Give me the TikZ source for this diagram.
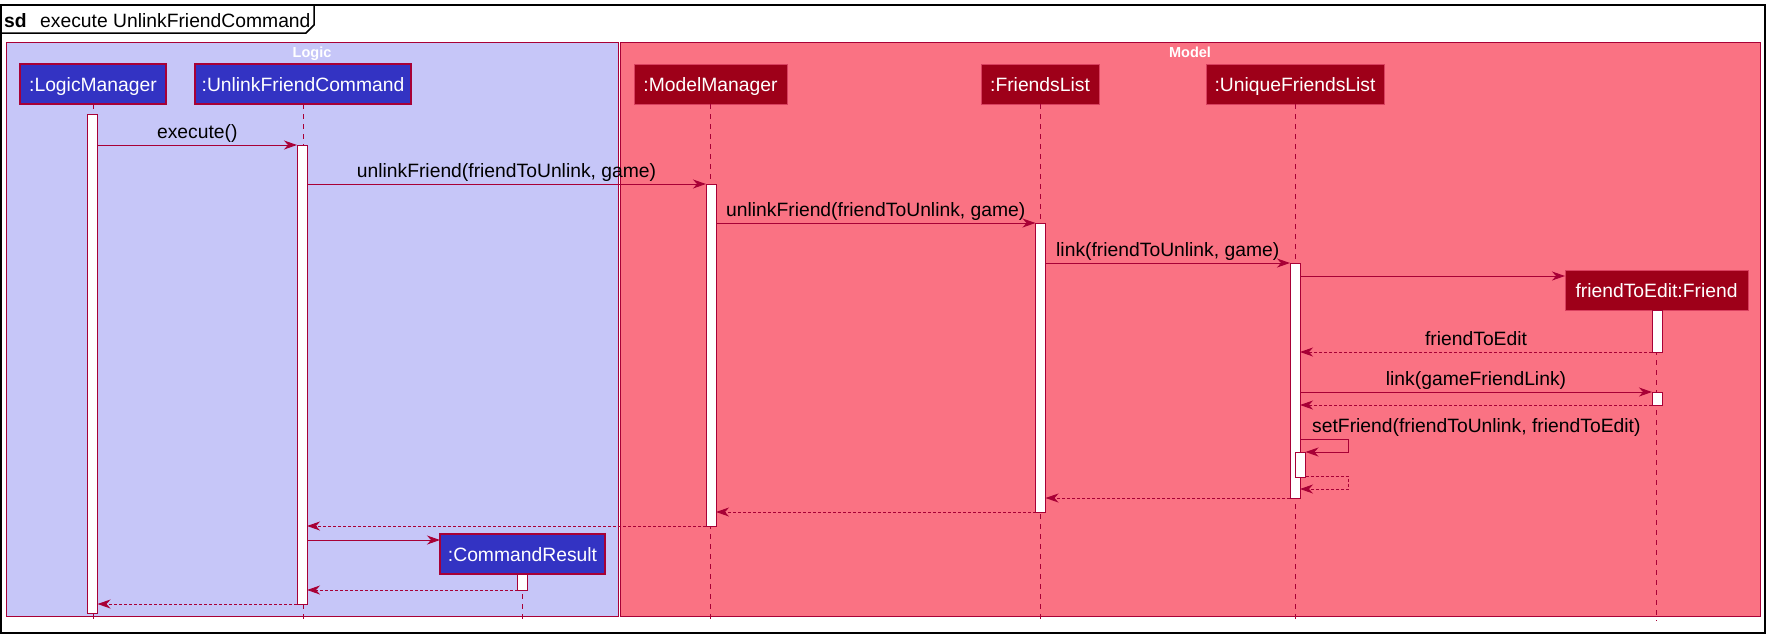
\documentclass[tikz,border=0pt]{standalone}
\usepackage{fontspec}
\setmainfont{Liberation Sans}
\usetikzlibrary{arrows.meta,calc}
\definecolor{crim}{HTML}{A80036}
\definecolor{logicbg}{HTML}{C6C6F8}
\definecolor{modelbg}{HTML}{FA7283}
\definecolor{pblue}{HTML}{3333C3}
\definecolor{pred}{HTML}{9E0019}
\definecolor{predborder}{HTML}{D9405F}
\tikzset{
  txt/.style={font=\fontsize{19.3}{23}\selectfont},
  grp/.style={draw=crim, line width=1pt},
  grplbl/.style={font=\fontsize{14.5}{17}\selectfont\bfseries, text=white, inner sep=0pt, anchor=base},
  partb/.style={txt, draw=crim, line width=1.2pt, fill=pblue, text=white, inner sep=0pt, outer sep=0pt,
    minimum height=40pt, text height=15pt, text depth=0pt},
  partr/.style={txt, draw=predborder, line width=1pt, fill=pred, text=white, inner sep=0pt, outer sep=0pt,
    minimum height=40pt, text height=15pt, text depth=0pt},
  life/.style={draw=crim, line width=1pt, dash pattern=on 5pt off 5pt},
  actbar/.style={draw=crim, fill=white, line width=1pt, inner sep=0pt, outer sep=0pt, minimum width=10pt},
  msg/.style={draw=crim, line width=1pt, -{Stealth[length=13pt,width=9pt,inset=4pt]}},
  ret/.style={msg, dash pattern=on 3pt off 2pt},
  lbl/.style={txt, inner sep=0pt, anchor=base, yshift=7pt},
}
\begin{document}
\begin{tikzpicture}[x=1pt,y=-1pt]
\useasboundingbox (0,0) rectangle (1771,638);
\fill[white] (0,0) rectangle (1771,638);
% outer frame
\draw[line width=1.5pt] (1,5) rectangle (1765,633);
\draw[line width=1.5pt] (1,33) -- (306,33) -- (314,25) -- (314,5);
\node[txt, font=\fontsize{19.3}{23}\selectfont\bfseries, anchor=base west, inner sep=0pt] (sd) at (4,27) {sd};
\node[txt, anchor=base west, inner sep=0pt] (title) at (40,27) {execute UnlinkFriendCommand};
% groups
\filldraw[grp, fill=logicbg] (6,42) rectangle (618,616);
\filldraw[grp, fill=modelbg] (620,42) rectangle (1760,616);
\node[grplbl] (logiclbl) at (312,57) {Logic};
\node[grplbl] (modellbl) at (1190,57) {Model};
% participants
\node[partb, minimum width=146pt] (LM) at (93,84) {:LogicManager};
\node[partb, minimum width=216pt] (UFC) at (303,84) {:UnlinkFriendCommand};
\node[partr, minimum width=153pt] (MM) at (710.5,84) {:ModelManager};
\node[partr, minimum width=118pt] (FL) at (1040,84) {:FriendsList};
\node[partr, minimum width=178pt] (UFL) at (1295,84) {:UniqueFriendsList};
\node[partr, minimum width=183pt] (FR) at (1656.5,290) {friendToEdit:Friend};
\node[partb, minimum width=165pt] (CR) at (522.5,554) {:CommandResult};
% lifelines
\draw[life] (LM.south) -- (LM.south |- 0,619);
\draw[life] (UFC.south) -- (UFC.south |- 0,619);
\draw[life] (MM.south) -- (MM.south |- 0,619);
\draw[life] (FL.south) -- (FL.south |- 0,619);
\draw[life] (UFL.south) -- (UFL.south |- 0,619);
\draw[life] (FR.south) -- (FR.south |- 0,621);
\draw[life] (CR.south) -- (CR.south |- 0,623);
% activations
\node[actbar, minimum height=499pt] (aLM) at (92.5,363.5) {};
\node[actbar, minimum height=459pt] (aUFC) at (302,374.5) {};
\node[actbar, minimum height=342pt] (aMM) at (711,355) {};
\node[actbar, minimum height=289pt] (aFL) at (1040.5,367.5) {};
\node[actbar, minimum height=235pt] (aUFL) at (1295,380.5) {};
\node[actbar, minimum height=25pt] (aUFL2) at (1300.5,464.5) {};
\node[actbar, minimum height=42pt] (aF1) at (1657,331) {};
\node[actbar, minimum height=13pt] (aF2) at (1657,398.5) {};
\node[actbar, minimum height=16pt] (aCR) at (522.5,582) {};
% messages
\draw[msg] (aLM.east |- 0,145) -- (aUFC.west |- 0,145) node[lbl, midway] {execute()};
\draw[msg] (aUFC.east |- 0,184) -- (aMM.west |- 0,184) node[lbl, midway] {unlinkFriend(friendToUnlink, game)};
\draw[msg] (aMM.east |- 0,223) -- (aFL.west |- 0,223) node[lbl, midway] {unlinkFriend(friendToUnlink, game)};
\draw[msg] (aFL.east |- 0,263) -- (aUFL.west |- 0,263) node[lbl, midway] {link(friendToUnlink, game)};
\draw[msg] (aUFL.east |- 0,276) -- (FR.west |- 0,276);
\draw[ret] (aF1.west |- 0,352) -- (aUFL.east |- 0,352) node[lbl, midway] {friendToEdit};
\draw[msg] (aUFL.east |- 0,392) -- (aF2.west |- 0,392) node[lbl, midway] {link(gameFriendLink)};
\draw[ret] (aF2.west |- 0,405) -- (aUFL.east |- 0,405);
\node[txt, inner sep=0pt, anchor=base west] (setlbl) at (1312,432) {setFriend(friendToUnlink, friendToEdit)};
\draw[msg] (aUFL.east |- 0,439) -- ++(48,0) |- (aUFL2.east |- 0,452);
\draw[ret] (aUFL2.east |- 0,476) -- (1348,476) |- (aUFL.east |- 0,489);
\draw[ret] (aUFL.west |- 0,498) -- (aFL.east |- 0,498);
\draw[ret] (aFL.west |- 0,512) -- (aMM.east |- 0,512);
\draw[ret] (aMM.west |- 0,526) -- (aUFC.east |- 0,526);
\draw[msg] (aUFC.east |- 0,540) -- (CR.west |- 0,540);
\draw[ret] (aCR.west |- 0,590) -- (aUFC.east |- 0,590);
\draw[ret] (aUFC.west |- 0,604) -- (aLM.east |- 0,604);
\end{tikzpicture}
\end{document}
